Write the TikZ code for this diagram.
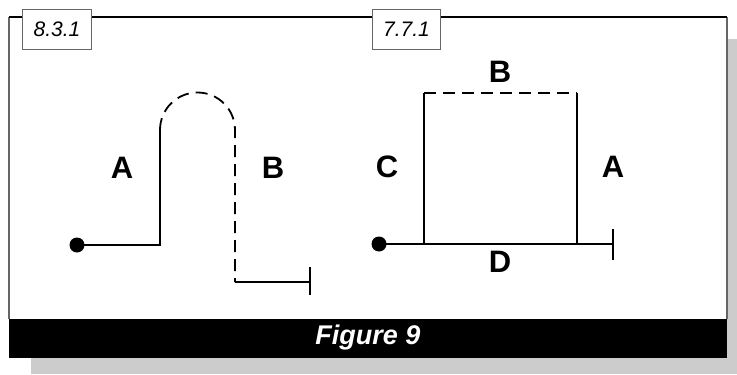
\documentclass[tikz,border=0pt]{standalone}
\usepackage{fontspec}
\setmainfont{Liberation Sans}
\definecolor{shadowgray}{HTML}{CCCCCC}
\definecolor{framegray}{HTML}{666666}
\begin{document}
\begin{tikzpicture}[x=1bp,y=1bp,
  wire/.style={line width=1.8bp},
  dashwire/.style={line width=1.8bp, dash pattern=on 12bp off 7bp},
  dotnode/.style={circle, fill=black, inner sep=0pt, minimum size=15bp},
  letter/.style={font=\fontsize{31bp}{32bp}\selectfont\bfseries, inner sep=0pt},
  tagbox/.style={draw=framegray, line width=1bp, fill=white, minimum width=68bp, minimum height=39bp, inner sep=0pt, font=\fontsize{21bp}{22bp}\selectfont\itshape},
  caption/.style={font=\fontsize{27bp}{28bp}\selectfont\bfseries\itshape, text=white}
]
\useasboundingbox (0,0) rectangle (737,374);
% shadow
\fill[shadowgray] (31,0) rectangle (737,335);
% frame
\fill[white] (9,55) rectangle (727,357);
\draw[framegray, line width=1.2bp] (9,55) -- (9,357);
\draw[framegray, line width=1.2bp] (727,55) -- (727,357);
\draw[black, line width=1.2bp] (9,357) -- (727,357);
\fill[black] (9,16) rectangle (727,55);
\node[caption] (cap) at (368,36) {Figure 9};
% tags
\node[tagbox] (t1) at (57,344.5) {8.3.1};
\node[tagbox] (t2) at (406.5,344.5) {7.7.1};
% left diagram
\node[dotnode] (d1) at (77,129) {};
\coordinate (l1) at (160,129);
\coordinate (l2) at (160,244);
\coordinate (l3) at (235,244);
\coordinate (l4) at (235,92);
\coordinate (l5) at (310,92);
\coordinate (l6) at (310,107);
\coordinate (l7) at (310,79);
\draw[wire] (d1.center) -- (l1) -- (l2);
\draw[dashwire] (l2) arc[start angle=180, end angle=0, radius=37.5] -- (l4);
\draw[wire] (l4) -- (l5);
\draw[wire] (l6) -- (l7);
\node[letter] (la) at (122,206) {A};
\node[letter] (lb) at (273,206) {B};
% right diagram
\node[dotnode] (d2) at (379,130) {};
\coordinate (r1) at (424,130);
\coordinate (r2) at (577,130);
\coordinate (r3) at (613,130);
\coordinate (r4) at (424,281);
\coordinate (r5) at (577,281);
\coordinate (r6) at (613,145);
\coordinate (r7) at (613,114);
\draw[wire] (d2.center) -- (r3);
\draw[wire] (r6) -- (r7);
\draw[wire] (r1) -- (r4);
\draw[wire] (r2) -- (r5);
\draw[dashwire] (r4) -- (r5);
\node[letter] (rb) at (500,302) {B};
\node[letter] (rc) at (387,207) {C};
\node[letter] (ra) at (613,207) {A};
\node[letter] (rd) at (500,112) {D};
\end{tikzpicture}
\end{document}
